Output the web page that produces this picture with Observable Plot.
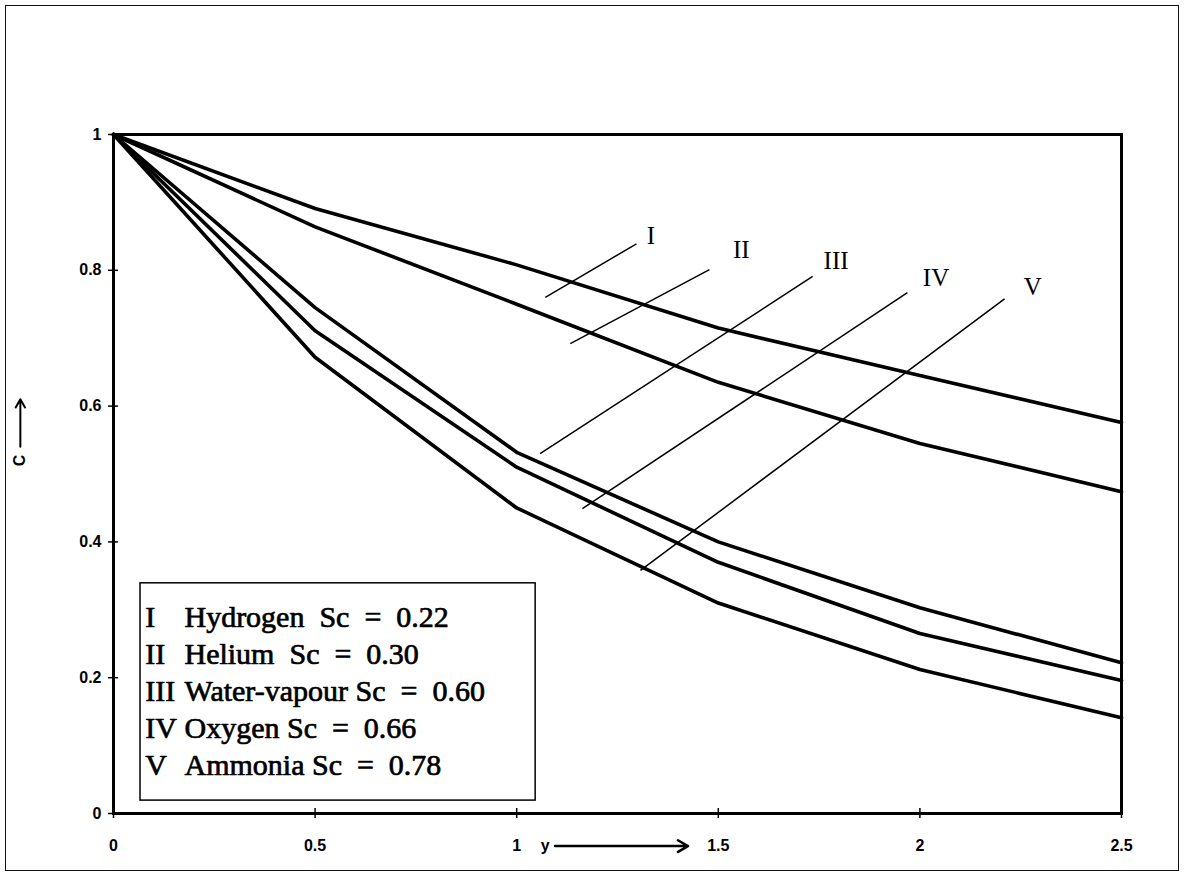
<!DOCTYPE html>
<html><head><meta charset="utf-8">
<script src="https://cdn.jsdelivr.net/npm/d3@7"></script>
<script src="https://cdn.jsdelivr.net/npm/@observablehq/plot@0.6"></script>
<style>
body{margin:0;background:#fff;}
#wrap{position:relative;width:1185px;height:877px;}
#wrap svg{position:absolute;left:0;top:0;}
#border{position:absolute;left:5px;top:5px;width:1172px;height:864px;border:1.5px solid #111;pointer-events:none;}
</style></head><body><div id="wrap"></div>
<script>
// distance y
const yValues = [0, 0.5, 1, 1.5, 2, 2.5];
// concentration C for each gas
const cHydrogen = [1, 0.891, 0.808, 0.715, 0.645, 0.576];
const cHelium   = [1, 0.864, 0.750, 0.635, 0.545, 0.474];
const cWater    = [1, 0.745, 0.532, 0.400, 0.303, 0.222];
const cOxygen   = [1, 0.711, 0.510, 0.370, 0.265, 0.196];
const cAmmonia  = [1, 0.672, 0.450, 0.310, 0.212, 0.141];
const seriesNames = ["I", "II", "III", "IV", "V"];
const legendNumerals = ["I", "II", "III", "IV", "V"];
const legendGases = ["Hydrogen\u00a0", "Helium\u00a0", "Water-vapour", "Oxygen", "Ammonia"];
const legendSc = ["0.22", "0.30", "0.60", "0.66", "0.78"];
const xTicks = [0, 0.5, 1, 1.5, 2, 2.5];
const yTicks = [0, 0.2, 0.4, 0.6, 0.8, 1];
// leader lines (label annotations), data coordinates
const leaderX1 = [1.071, 1.133, 1.058, 1.163, 1.307];
const leaderY1 = [0.760, 0.692, 0.530, 0.449, 0.358];
const leaderX2 = [1.297, 1.478, 1.734, 1.969, 2.210];
const leaderY2 = [0.839, 0.801, 0.791, 0.767, 0.758];
const labelX = [1.333, 1.557, 1.792, 2.040, 2.280];
const labelY = [0.851, 0.830, 0.814, 0.789, 0.775];

// legend layout (data coordinates of the box and first row)
const legendBox = {x1: 0.067, x2: 1.047, y1: 0.019, y2: 0.339};
const legendRow0 = 0.2887, legendRowStep = 0.0545, legendNumX = 0.079, legendTextX = 0.176;

const series = [cHydrogen, cHelium, cWater, cOxygen, cAmmonia];
const rows = seriesNames.flatMap((s, k) => yValues.map((x, i) => ({series: s, x, c: series[k][i]})));
const leaders = seriesNames.map((s, i) => ({s, x1: leaderX1[i], y1: leaderY1[i], x2: leaderX2[i], y2: leaderY2[i], lx: labelX[i], ly: labelY[i]}));
const nb = n => "\u00a0".repeat(n);
const legendRows = legendNumerals.map((n, i) => ({n, t: legendGases[i] + " Sc" + nb(2) + "=" + nb(2) + legendSc[i], i}));

const sans = "Liberation Sans, Arial, sans-serif";
const serif = "Liberation Serif, Times New Roman, serif";
const fmt = d => String(d);
const rowY = d => legendRow0 - d.i * legendRowStep;

const chart = Plot.plot({
  width: 1185, height: 877,
  marginLeft: 113, marginRight: 64, marginTop: 134, marginBottom: 64,
  x: {domain: [0, 2.5]},
  y: {domain: [0, 1]},
  style: {background: "transparent", color: "#000"},
  marks: [
    Plot.frame({stroke: "#000", strokeWidth: 3}),
    Plot.ruleX(xTicks, {x: d => d, y1: 0, y2: 0, insetTop: -5, insetBottom: -5, stroke: "#000", strokeWidth: 1.5}),
    Plot.ruleY(yTicks, {y: d => d, x1: 0, x2: 0, insetLeft: -5, insetRight: -5, stroke: "#000", strokeWidth: 1.5}),
    Plot.axisX(xTicks, {tickSize: 0, tickPadding: 26, tickFormat: fmt, fontSize: 16, fontWeight: "bold", fontFamily: sans, label: null}),
    Plot.axisY(yTicks, {tickSize: 0, tickPadding: 12, tickFormat: fmt, fontSize: 16, fontWeight: "bold", fontFamily: sans, label: null}),
    Plot.line(rows, {x: "x", y: "c", z: "series", stroke: "#000", strokeWidth: 3.6, strokeLinejoin: "round"}),
    Plot.link(leaders, {x1: "x1", y1: "y1", x2: "x2", y2: "y2", stroke: "#000", strokeWidth: 1.5}),
    Plot.text(leaders, {x: "lx", y: "ly", text: "s", fontSize: 25, fontFamily: serif, fill: "#000", textAnchor: "middle"}),
    // legend box
    Plot.rect([legendBox], {x1: "x1", x2: "x2", y1: "y1", y2: "y2", fill: "#fff", stroke: "#000", strokeWidth: 1.5}),
    Plot.text(legendRows, {x: legendNumX, y: rowY, text: "n", fontSize: 30, fontFamily: serif, textAnchor: "start", fill: "#000", stroke: "#000", strokeWidth: 0.7}),
    Plot.text(legendRows, {x: legendTextX, y: rowY, text: "t", fontSize: 30, fontFamily: serif, textAnchor: "start", fill: "#000", stroke: "#000", strokeWidth: 0.7}),
    // axis titles
    Plot.text(["C"], {x: -0.231, y: 0.52, text: d => d, rotate: -90, fontSize: 16, fontWeight: "bold", fontFamily: sans, fill: "#000"}),
    Plot.arrow([0], {x1: -0.231, x2: -0.231, y1: 0.54, y2: 0.61, stroke: "#000", strokeWidth: 2, headLength: 7}),
    Plot.text(["y"], {x: 1.071, y: -0.048, text: d => d, fontSize: 16, fontWeight: "bold", fontFamily: sans, fill: "#000"}),
    Plot.arrow([0], {x1: 1.095, x2: 1.425, y1: -0.048, y2: -0.048, stroke: "#000", strokeWidth: 2.5, headLength: 7})
  ]
});
const wrap = document.getElementById("wrap");
wrap.appendChild(chart);
const b = document.createElement("div"); b.id = "border"; wrap.appendChild(b);
</script></body></html>
